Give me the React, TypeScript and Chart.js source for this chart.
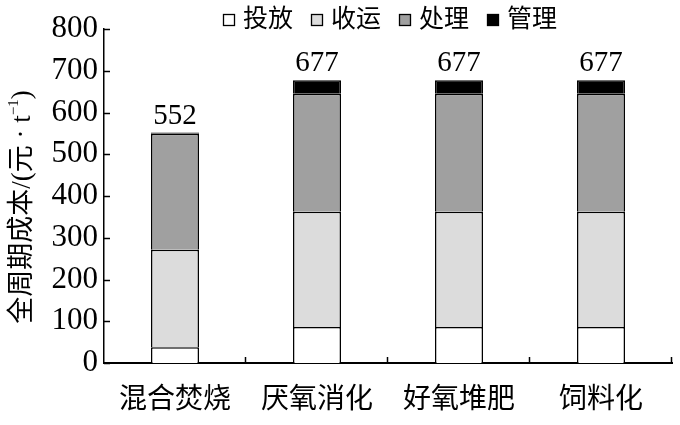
import React, { useEffect, useRef } from "react";
import { Chart, registerables } from "chart.js";

Chart.register(...registerables);

const categories = ["混合焚烧", "厌氧消化", "好氧堆肥", "饲料化"];
const seriesNames = ["投放", "收运", "处理", "管理"];
const touFang = [38, 86, 86, 86];
const shouYun = [233, 276, 276, 276];
const chuLi = [278, 283, 283, 283];
const guanLi = [3, 32, 32, 32];
const totals = [552, 677, 677, 677];
const yMin = 0;
const yMax = 800;
const yStep = 100;
const yTitleMain = "全周期成本/(元 · t";
const yTitleSup = "−1";
const yTitleEnd = ")";

const colors = ["#ffffff", "#dcdcdc", "#a0a0a0", "#000000"];
const FONT = '"Liberation Serif", "Noto Sans CJK SC", serif';

const decorPlugin = {
  id: "decor",
  afterDraw(chart: any) {
    const ctx = chart.ctx as CanvasRenderingContext2D;
    const area = chart.chartArea;
    const x = chart.scales.x;
    const y = chart.scales.y;
    ctx.save();
    ctx.strokeStyle = "#000";
    ctx.lineWidth = 1.5;
    y.ticks.forEach((t: any) => {
      const py = Math.round(y.getPixelForValue(t.value)) + 0.5;
      ctx.beginPath();
      ctx.moveTo(area.left, py);
      ctx.lineTo(area.left + 6, py);
      ctx.stroke();
    });
    const half = (x.getPixelForValue(1) - x.getPixelForValue(0)) / 2;
    categories.forEach((_, i) => {
      const px = Math.round(x.getPixelForValue(i) + half) - 0.5;
      ctx.beginPath();
      ctx.moveTo(px, area.bottom);
      ctx.lineTo(px, area.bottom - 6);
      ctx.stroke();
    });
    // totals
    ctx.fillStyle = "#000";
    ctx.font = "29px " + FONT;
    ctx.textAlign = "center";
    ctx.textBaseline = "bottom";
    totals.forEach((v, i) => {
      ctx.fillText(String(v), x.getPixelForValue(i), y.getPixelForValue(v) - 2);
    });
    // legend
    ctx.font = "25px " + FONT;
    ctx.textBaseline = "middle";
    ctx.textAlign = "left";
    let lx = 223;
    const ly = 20;
    seriesNames.forEach((n, i) => {
      ctx.fillStyle = colors[i];
      ctx.fillRect(lx, ly - 6, 12, 12);
      ctx.strokeStyle = "#000";
      ctx.lineWidth = 1.3;
      ctx.strokeRect(lx + 0.5, ly - 5.5, 11, 11);
      ctx.fillStyle = "#000";
      ctx.fillText(n, lx + 20, ly);
      lx += 20 + ctx.measureText(n).width + 18;
    });
    // y title
    ctx.translate(23, 207);
    ctx.rotate(-Math.PI / 2);
    ctx.font = "27px " + FONT;
    const w1 = ctx.measureText(yTitleMain).width;
    ctx.font = "15px " + FONT;
    const w2 = ctx.measureText(yTitleSup).width;
    ctx.font = "27px " + FONT;
    const w3 = ctx.measureText(yTitleEnd).width;
    const total = w1 + w2 + w3;
    let tx = -total / 2;
    ctx.textBaseline = "middle";
    ctx.fillText(yTitleMain, tx, 0);
    tx += w1;
    ctx.font = "15px " + FONT;
    ctx.fillText(yTitleSup, tx, -9);
    tx += w2;
    ctx.font = "27px " + FONT;
    ctx.fillText(yTitleEnd, tx, 0);
    ctx.restore();
  },
};

export default function App() {
  const ref = useRef<HTMLCanvasElement>(null);
  useEffect(() => {
    if (!ref.current) return;
    const seriesData = [touFang, shouYun, chuLi, guanLi];
    const chart = new Chart(ref.current, {
      type: "bar",
      data: {
        labels: categories,
        datasets: seriesNames.map((n, i) => ({
          label: n,
          data: seriesData[i],
          backgroundColor: colors[i],
          borderColor: "#000",
          borderWidth: { top: 1.5, left: 1.5, right: 1.5, bottom: 0 },
          borderSkipped: false,
          barPercentage: 1,
          categoryPercentage: 0.338,
        })),
      },
      options: {
        responsive: false,
        animation: false,
        devicePixelRatio: 1,
        layout: { padding: { left: 0, top: 29, right: 8, bottom: 0 } },
        plugins: { legend: { display: false }, tooltip: { enabled: false } },
        scales: {
          x: {
            stacked: true,
            grid: { display: false, drawTicks: false },
            border: { color: "#000", width: 2 },
            ticks: { color: "#000", font: { family: FONT, size: 28 }, padding: 21 },
            afterFit: (s: any) => {
              s.height = 62;
            },
          },
          y: {
            stacked: true,
            min: yMin,
            max: yMax,
            grid: { display: false, drawTicks: false },
            border: { color: "#000", width: 1.5 },
            ticks: {
              stepSize: yStep,
              color: "#000",
              font: { family: FONT, size: 31 },
              padding: 6,
            },
            afterFit: (s: any) => {
              s.width = 104;
            },
          },
        },
      },
      plugins: [decorPlugin],
    });
    return () => chart.destroy();
  }, []);
  return (
    <div style={{ position: "absolute", left: 0, top: 0, width: 680, height: 425, background: "#fff" }}>
      <canvas ref={ref} width={680} height={425} />
    </div>
  );
}
